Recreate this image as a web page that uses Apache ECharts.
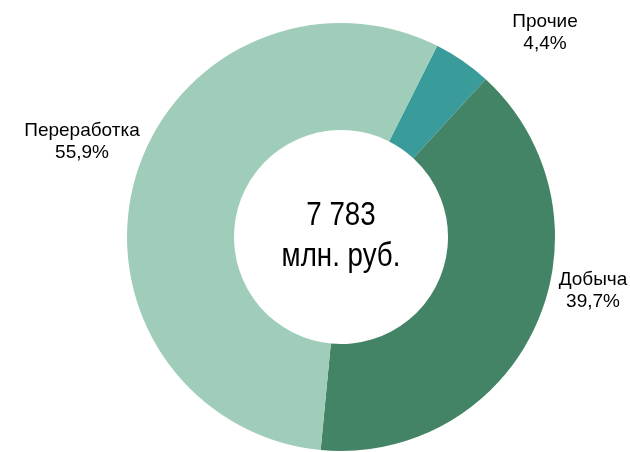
<!DOCTYPE html>
<html>
<head>
<meta charset="utf-8">
<script src="https://cdn.jsdelivr.net/npm/echarts@6/dist/echarts.min.js"></script>
<style>
  html, body { margin: 0; padding: 0; background: #fff; }
  #chart { width: 630px; height: 452px; }
</style>
</head>
<body>
<div id="chart"></div>
<script>
const categories = ['Прочие', 'Добыча', 'Переработка'];
const shares = [4.4, 39.7, 55.9];
const totalText = '7 783';
const unitText = 'млн. руб.';

const colors = ['#3a9b9b', '#438466', '#a0cdb9'];
// where the slice labels sit (pixels)
const labelPos = [[545, 33], [593, 291], [82, 142]];
const font = "'Liberation Sans', Arial, sans-serif";

const chart = echarts.init(document.getElementById('chart'));

const option = {
    animation: false,
    graphic: [{
        type: 'text',
        x: 341,
        y: 236,
        scaleX: 0.84,
        style: {
            text: totalText + '\n' + unitText,
            fontFamily: font,
            fontSize: 33,
            lineHeight: 41,
            fill: '#000',
            align: 'center',
            verticalAlign: 'middle'
        }
    }],
    series: [{
        type: 'pie',
        center: [341, 237],
        radius: [107, 214],
        startAngle: 63.3,
        clockwise: true,
        data: categories.map((name, i) => ({
            name: name,
            value: shares[i],
            itemStyle: { color: colors[i] }
        })),
        label: {
            show: true,
            position: 'outside',
            formatter: (p) => p.name + '\n' + String(p.value).replace('.', ',') + '%',
            fontFamily: font,
            fontSize: 19,
            lineHeight: 22,
            color: '#000',
            align: 'center',
            overflow: 'none'
        },
        labelLine: { show: false },
        labelLayout: (params) => ({
            x: labelPos[params.dataIndex][0],
            y: labelPos[params.dataIndex][1],
            align: 'center',
            verticalAlign: 'middle'
        }),
        emphasis: { disabled: true }
    }]
};

chart.setOption(option);
</script>
</body>
</html>
